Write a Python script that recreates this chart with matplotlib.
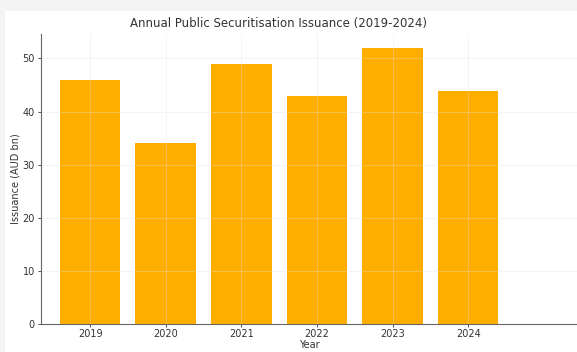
import numpy as np
import matplotlib
matplotlib.use('Agg')
import matplotlib.pyplot as plt
from matplotlib.patches import Rectangle

years = ['2019', '2020', '2021', '2022', '2023', '2024']
issuance = [46, 34, 49, 43, 52, 43.8]

fig = plt.figure(figsize=(5.77, 3.52), dpi=100, facecolor='#f4f4f4')
# white card behind the chart (screenshot border)
fig.patches.append(Rectangle((5/577, 0), 1, (352-11)/352, transform=fig.transFigure,
                             facecolor='white', edgecolor='none', zorder=-10))
ax = fig.add_axes([41/577, (352-324)/352, (577-41)/577, (324-34)/352])
ax.set_facecolor('none')

x = np.arange(len(years))
ax.bar(x, issuance, width=0.8, color='#FFAE00', zorder=1)
ax.set_xticks(x)
ax.set_xticklabels(years)
ax.set_xlim(-0.65, 6.44)
ax.set_ylim(0, 54.6)
ax.set_yticks([0, 10, 20, 30, 40, 50])

ax.grid(True, color='#e0e0e0', alpha=0.4, linewidth=0.6, zorder=2)
ax.set_axisbelow(False)
for s in ['top', 'right']:
    ax.spines[s].set_visible(False)
for s in ['left', 'bottom']:
    ax.spines[s].set_color('#666666')
    ax.spines[s].set_zorder(3)
ax.tick_params(labelsize=7, colors='#333333', length=2, width=0.6, pad=1.5)
ax.tick_params(axis='y', pad=2.5)
ax.set_xlabel('Year', fontsize=7, color='#333333', labelpad=1)
ax.set_ylabel('Issuance (AUD bn)', fontsize=7, color='#333333', labelpad=1.5)
ax.set_title('Annual Public Securitisation Issuance (2019-2024)', fontsize=8.5,
             color='#333333', x=(279-41)/536, pad=5)

fig.savefig('out.png', dpi=100, facecolor=fig.get_facecolor())
